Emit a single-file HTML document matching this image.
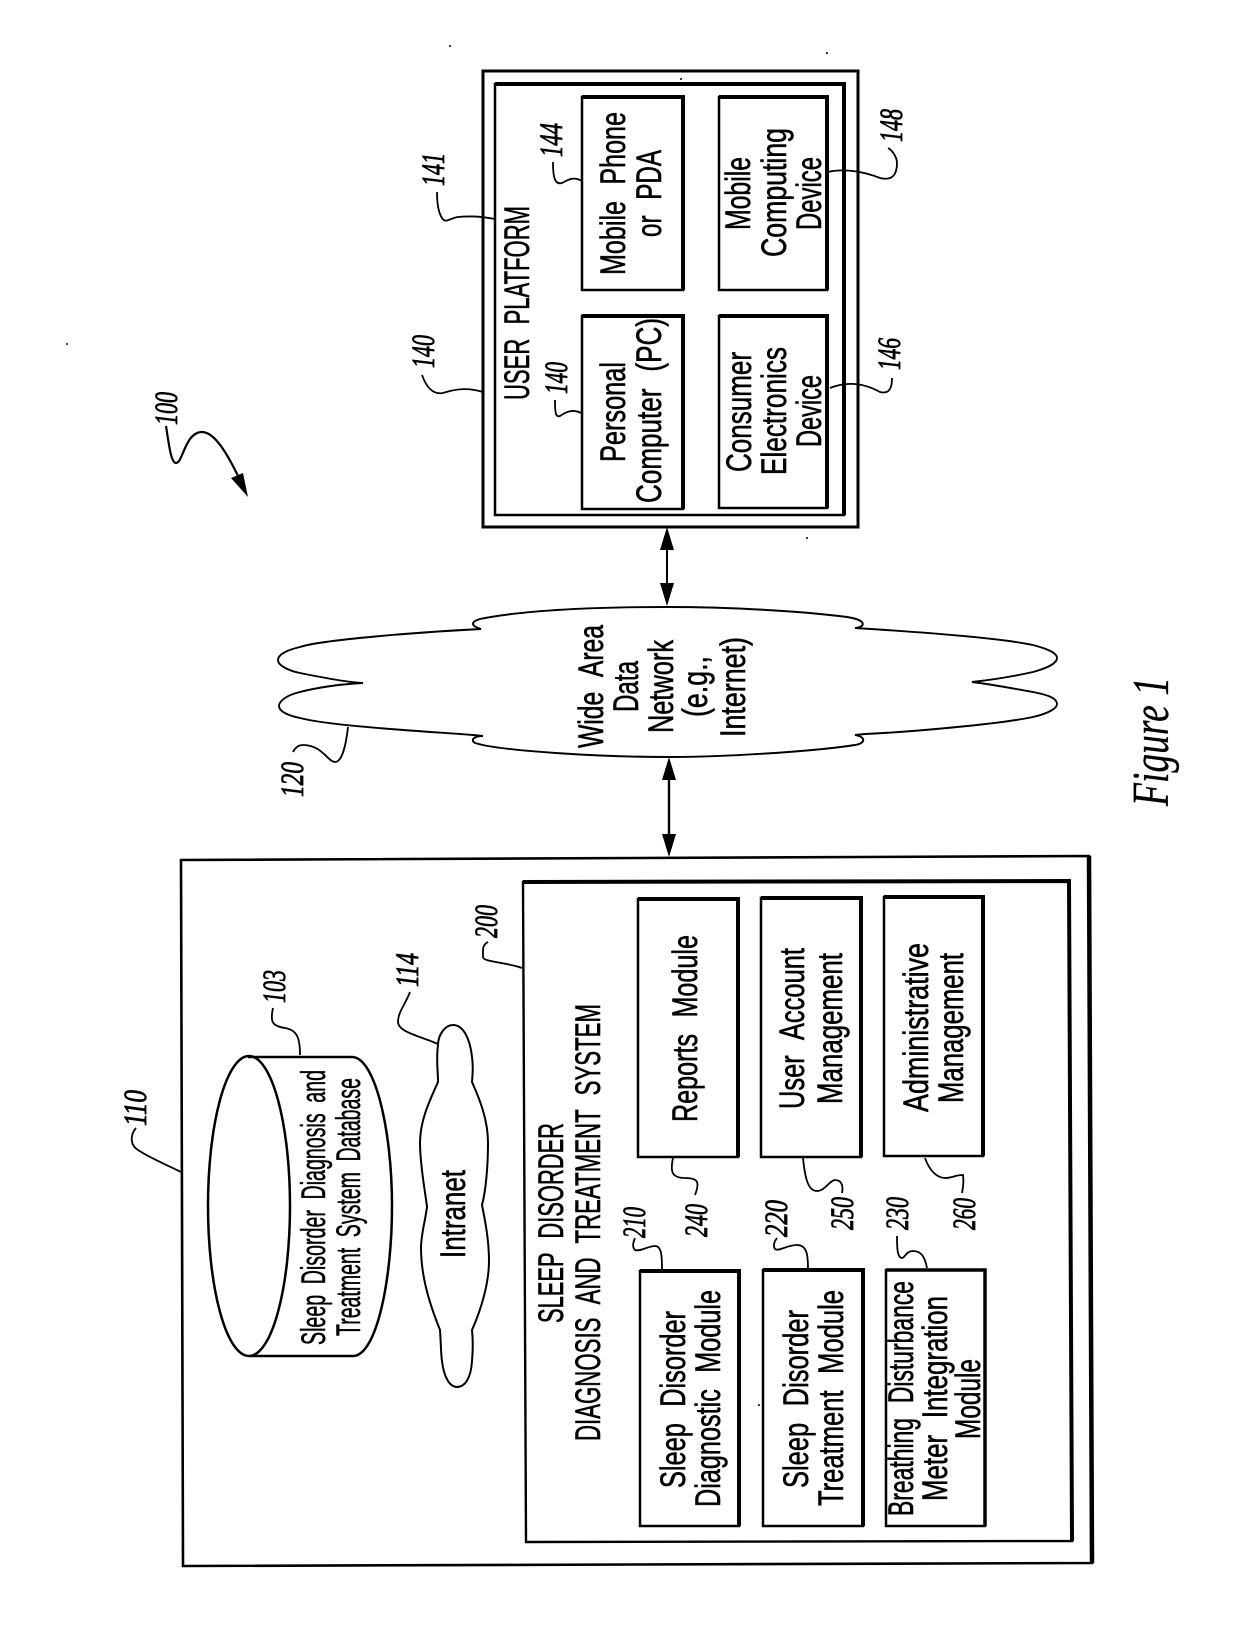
<!DOCTYPE html>
<html><head><meta charset="utf-8"><style>
html,body{margin:0;padding:0;background:#fff}
svg{display:block}
.s text{font-family:"Liberation Sans",sans-serif;font-size:35px;fill:#000;stroke:#000;stroke-width:.6px;word-spacing:13px}
.c text{font-family:"Liberation Sans",sans-serif;font-size:34px;fill:#000;stroke:#000;stroke-width:.5px;word-spacing:9px}
.n text{font-family:"Liberation Serif",serif;font-style:italic;font-size:33px;fill:#000;stroke:#000;stroke-width:.8px}
.l path{fill:none;stroke:#000;stroke-width:1.8}
</style></head><body>
<svg xmlns="http://www.w3.org/2000/svg" width="1240" height="1628" viewBox="0 0 1240 1628">
<rect width="1240" height="1628" fill="#fff"/>
<g fill="none" stroke="#000">
<rect x="483" y="71" width="375" height="456" stroke-width="3"/>
<rect x="495" y="84" width="349" height="431" stroke-width="2.5"/>
<path d="M495 84H844V515" stroke-width="4"/>
<rect x="582" y="97" width="101" height="193" stroke-width="2.5"/>
<path d="M582 97H683V290" stroke-width="4"/>
<rect x="719" y="97" width="108" height="193" stroke-width="2.5"/>
<path d="M719 97H827V290" stroke-width="4"/>
<rect x="582" y="316" width="101" height="193" stroke-width="2.5"/>
<path d="M582 316H683V509" stroke-width="4"/>
<rect x="719" y="316" width="108" height="192" stroke-width="2.5"/>
<path d="M719 316H827V508" stroke-width="4"/>
<path d="M181 860L1089 856L1092 1563L183 1566Z" stroke-width="2.6"/>
<path d="M1089 856L1092 1563" stroke-width="4.5"/>
<path d="M523 882L1069 881L1072 1541L526 1542Z" stroke-width="2.4"/>
<path d="M523 882L1069 881L1072 1541" stroke-width="4"/>
<rect x="638" y="899" width="100" height="258" stroke-width="2.5"/>
<path d="M638 899H738V1157" stroke-width="4"/>
<rect x="761" y="898" width="100" height="259" stroke-width="2.5"/>
<path d="M761 898H861V1157" stroke-width="4"/>
<rect x="884" y="897" width="99" height="259" stroke-width="2.5"/>
<path d="M884 897H983V1156" stroke-width="4"/>
<rect x="640" y="1271" width="99" height="255" stroke-width="2.5"/>
<path d="M640 1271H739V1526" stroke-width="4"/>
<rect x="763" y="1270" width="100" height="256" stroke-width="2.5"/>
<path d="M763 1270H863V1526" stroke-width="4"/>
<rect x="886" y="1270" width="99" height="256" stroke-width="2.5"/>
<path d="M886 1270H985V1526" stroke-width="3.5"/>
<ellipse cx="249" cy="1206" rx="41" ry="150" stroke-width="2.5"/>
<path d="M248 1057H352C375 1057 392 1130 392 1206C392 1282 376 1356 353 1356H250" stroke-width="2.5"/>
<path d="M453 1025C445 1025 438 1035 438 1045C436 1060 438 1070 438 1082C430 1100 420 1120 420 1143C420 1165 425 1190 427 1207C425 1222 421 1235 421 1248C421 1280 432 1310 440 1330C441 1345 441 1355 442 1361C444 1378 450 1387 457 1387C465 1387 471 1378 472 1361C473 1350 473 1340 472 1330C480 1312 489 1285 489 1261C489 1240 485 1220 482 1205C486 1190 488 1165 488 1143C488 1120 480 1100 472 1082C473 1070 473 1065 472 1057C470 1038 463 1025 453 1025Z" stroke-width="2"/>
<path d="M667 607C610 607 530 609 480 619C470 622 471 626 481 629C420 632 320 640 300 647C283 651 278 656 278 660C278 666 290 671 300 673C320 677 345 682 363 683C340 684 315 688 300 692C287 695 279 701 279 706C279 712 290 716 300 718C330 726 420 731 473 735L483 736C474 736 470 740 475 743C500 751 600 757 669 757C720 757 810 752 855 745C866 743 866 737 855 735L865 734C910 732 1000 724 1033 717C1050 713 1057 708 1057 704C1057 698 1048 695 1033 692C1010 688 990 684 972 682C990 680 1015 676 1033 672C1048 668 1057 663 1057 658C1057 653 1048 649 1033 645C1000 638 920 632 855 628C866 627 867 620 847 617C800 611 730 607 667 607Z" stroke-width="1.9"/>
<path d="M667 535V600" stroke-width="2"/>
<path d="M669 765V850" stroke-width="2.4"/>
</g>
<g fill="#000">
<path d="M667 527L674 550H660Z"/><path d="M667 606L674 583H660Z"/>
<path d="M669 757L676 780H662Z"/><path d="M669 857L676 834H662Z"/>
<path d="M248 497L231 478L243 473Z"/>
<circle cx="450" cy="46" r="1"/><circle cx="827" cy="53" r="1"/><circle cx="681" cy="79" r="1"/><circle cx="807" cy="538" r="1"/><circle cx="759" cy="1405" r="1"/><circle cx="67" cy="344" r="1"/>
</g>
<g class="l">
<path d="M166 426C169 445 171 463 176 463C183 463 185 432 202 432C215 432 228 455 240 480" style="stroke-width:2.2"/>
<path d="M300 1055C300 1040 298 1030 285 1028C272 1026 270 1022 273 1008"/>
<path d="M438 1044C420 1036 398 1032 398 1022C398 1012 405 1005 410 992"/>
<path d="M522 968C505 962 483 962 483 957C483 950 482 945 488 942"/>
<path d="M181 1172C165 1164 150 1158 138 1150C130 1145 130 1135 136 1128"/>
<path d="M673 1158C670 1172 672 1178 685 1178C698 1178 700 1182 695 1195"/>
<path d="M803 1158C805 1178 808 1191 817 1191C825 1191 830 1180 835 1180C843 1180 843 1188 842 1193"/>
<path d="M925 1158C930 1172 938 1178 945 1178C952 1178 955 1175 963 1175C964 1182 963 1188 962 1193"/>
<path d="M662 1270C662 1258 662 1246 655 1246C648 1246 640 1252 635 1250C632 1247 633 1243 635 1238"/>
<path d="M808 1270C808 1258 808 1245 797 1245C787 1245 778 1252 775 1249C773 1246 774 1242 777 1238"/>
<path d="M927 1268C925 1258 922 1251 913 1251C906 1251 905 1258 902 1258C897 1258 897 1246 897 1236"/>
<path d="M495 219C480 216 468 216 458 217C450 218 446 224 442 218C438 212 437 202 437 192"/>
<path d="M483 392C470 388 458 388 443 393C432 395 426 386 422 375"/>
<path d="M582 181C573 176 568 180 562 183C555 185 553 178 553 162"/>
<path d="M583 414C573 408 566 412 560 416C555 418 555 410 555 400"/>
<path d="M828 172C845 168 865 172 880 178C892 181 897 175 897 163C897 157 892 150 888 148"/>
<path d="M830 388C845 382 862 382 880 392C888 394 892 390 892 378"/>
<path d="M348 727C346 745 342 762 335 762C328 762 322 745 303 745C298 745 295 748 293 752"/>
</g>
<g class="s">
<text transform="translate(529 400) rotate(-90)" textLength="194" lengthAdjust="spacingAndGlyphs">USER PLATFORM</text>
<text transform="translate(625 462) rotate(-90)" textLength="100" lengthAdjust="spacingAndGlyphs">Personal</text>
<text transform="translate(661 503) rotate(-90)" textLength="185" lengthAdjust="spacingAndGlyphs">Computer (PC)</text>
<text transform="translate(625 275) rotate(-90)" textLength="163" lengthAdjust="spacingAndGlyphs">Mobile Phone</text>
<text transform="translate(661 237) rotate(-90)" textLength="87" lengthAdjust="spacingAndGlyphs">or PDA</text>
<text transform="translate(750 230) rotate(-90)" textLength="73" lengthAdjust="spacingAndGlyphs">Mobile</text>
<text transform="translate(786 257) rotate(-90)" textLength="129" lengthAdjust="spacingAndGlyphs">Computing</text>
<text transform="translate(821 230) rotate(-90)" textLength="73" lengthAdjust="spacingAndGlyphs">Device</text>
<text transform="translate(751 472) rotate(-90)" textLength="120" lengthAdjust="spacingAndGlyphs">Consumer</text>
<text transform="translate(786 475) rotate(-90)" textLength="128" lengthAdjust="spacingAndGlyphs">Electronics</text>
<text transform="translate(821 447) rotate(-90)" textLength="72" lengthAdjust="spacingAndGlyphs">Device</text>
<text transform="translate(603 748) rotate(-90)" textLength="123" lengthAdjust="spacingAndGlyphs">Wide Area</text>
<text transform="translate(638 712) rotate(-90)" textLength="51" lengthAdjust="spacingAndGlyphs">Data</text>
<text transform="translate(673 733) rotate(-90)" textLength="93" lengthAdjust="spacingAndGlyphs">Network</text>
<text transform="translate(707 717) rotate(-90)" textLength="61" lengthAdjust="spacingAndGlyphs">(e.g.,</text>
<text transform="translate(745 737) rotate(-90)" textLength="100" lengthAdjust="spacingAndGlyphs">Internet)</text>
<text transform="translate(563 1323) rotate(-90)" textLength="200" lengthAdjust="spacingAndGlyphs">SLEEP DISORDER</text>
<text transform="translate(600 1441) rotate(-90)" textLength="437" lengthAdjust="spacingAndGlyphs">DIAGNOSIS AND TREATMENT SYSTEM</text>
<text transform="translate(697 1122) rotate(-90)" textLength="187" lengthAdjust="spacingAndGlyphs">Reports Module</text>
<text transform="translate(804 1109) rotate(-90)" textLength="161" lengthAdjust="spacingAndGlyphs">User Account</text>
<text transform="translate(842 1104) rotate(-90)" textLength="151" lengthAdjust="spacingAndGlyphs">Management</text>
<text transform="translate(928 1112) rotate(-90)" textLength="169" lengthAdjust="spacingAndGlyphs">Administrative</text>
<text transform="translate(963 1103) rotate(-90)" textLength="150" lengthAdjust="spacingAndGlyphs">Management</text>
<text transform="translate(685 1488) rotate(-90)" textLength="177" lengthAdjust="spacingAndGlyphs">Sleep Disorder</text>
<text transform="translate(720 1507) rotate(-90)" textLength="217" lengthAdjust="spacingAndGlyphs">Diagnostic Module</text>
<text transform="translate(808 1488) rotate(-90)" textLength="178" lengthAdjust="spacingAndGlyphs">Sleep Disorder</text>
<text transform="translate(843 1506) rotate(-90)" textLength="216" lengthAdjust="spacingAndGlyphs">Treatment Module</text>
<text transform="translate(913 1516) rotate(-90)" textLength="235" lengthAdjust="spacingAndGlyphs">Breathing Disturbance</text>
<text transform="translate(947 1501) rotate(-90)" textLength="205" lengthAdjust="spacingAndGlyphs">Meter Integration</text>
<text transform="translate(980 1439) rotate(-90)" textLength="80" lengthAdjust="spacingAndGlyphs">Module</text>
<text transform="translate(465 1258) rotate(-90)" textLength="88" lengthAdjust="spacingAndGlyphs">Intranet</text>
</g>
<g class="c">
<text transform="translate(325 1345) rotate(-90)" textLength="275" lengthAdjust="spacingAndGlyphs">Sleep Disorder Diagnosis and</text>
<text transform="translate(360 1336) rotate(-90)" textLength="258" lengthAdjust="spacingAndGlyphs">Treatment System Database</text>
</g>
<g class="n">
<text transform="translate(177 425) rotate(-90)" textLength="33" lengthAdjust="spacingAndGlyphs">100</text>
<text transform="translate(285 1003) rotate(-90)" textLength="33" lengthAdjust="spacingAndGlyphs">103</text>
<text transform="translate(418 987) rotate(-90)" textLength="34" lengthAdjust="spacingAndGlyphs">114</text>
<text transform="translate(497 938) rotate(-90)" textLength="33" lengthAdjust="spacingAndGlyphs">200</text>
<text transform="translate(146 1126) rotate(-90)" textLength="36" lengthAdjust="spacingAndGlyphs">110</text>
<text transform="translate(707 1237) rotate(-90)" textLength="33" lengthAdjust="spacingAndGlyphs">240</text>
<text transform="translate(853 1230) rotate(-90)" textLength="33" lengthAdjust="spacingAndGlyphs">250</text>
<text transform="translate(975 1230) rotate(-90)" textLength="32" lengthAdjust="spacingAndGlyphs">260</text>
<text transform="translate(645 1238) rotate(-90)" textLength="31" lengthAdjust="spacingAndGlyphs">210</text>
<text transform="translate(787 1237) rotate(-90)" textLength="37" lengthAdjust="spacingAndGlyphs">220</text>
<text transform="translate(908 1230) rotate(-90)" textLength="33" lengthAdjust="spacingAndGlyphs">230</text>
<text transform="translate(562 157) rotate(-90)" textLength="34" lengthAdjust="spacingAndGlyphs">144</text>
<text transform="translate(567 394) rotate(-90)" textLength="32" lengthAdjust="spacingAndGlyphs">140</text>
<text transform="translate(902 142) rotate(-90)" textLength="33" lengthAdjust="spacingAndGlyphs">148</text>
<text transform="translate(900 370) rotate(-90)" textLength="32" lengthAdjust="spacingAndGlyphs">146</text>
<text transform="translate(444 186) rotate(-90)" textLength="33" lengthAdjust="spacingAndGlyphs">141</text>
<text transform="translate(434 368) rotate(-90)" textLength="33" lengthAdjust="spacingAndGlyphs">140</text>
<text transform="translate(303 797) rotate(-90)" textLength="35" lengthAdjust="spacingAndGlyphs">120</text>
<text transform="translate(1168 806) rotate(-90)" textLength="129" lengthAdjust="spacingAndGlyphs" style="font-size:52px;stroke-width:.3px">Figure 1</text>
</g>
</svg>
</body></html>
